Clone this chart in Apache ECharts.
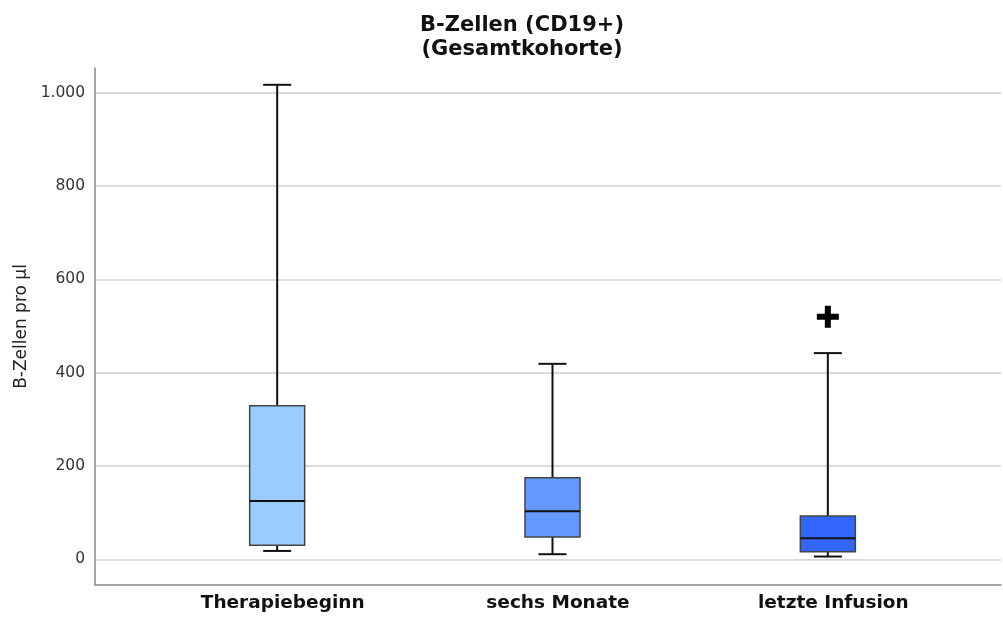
<!DOCTYPE html>
<html><head><meta charset="utf-8">
<script src="https://cdn.jsdelivr.net/npm/echarts@6/dist/echarts.min.js"></script>
<style>html,body{margin:0;padding:0;background:#fff}#c{width:1003px;height:619px}</style>
</head><body><div id="c"></div>
<script>
const categories = ['Therapiebeginn', 'sechs Monate', 'letzte Infusion'];
const whiskerLow = [18, 11, 6];
const q1 = [30, 48, 16];
const median = [125, 103, 45];
const q3 = [329, 175, 93];
const whiskerHigh = [1017, 419, 442];
const outliers = [[2, 520]];
const boxColors = ['#99CCFF', '#6699FF', '#3366FF'];
const yTickLabels = {0: '0', 200: '200', 400: '400', 600: '600', 800: '800', 1000: '1.000'};

const Y_MIN = -55, Y_MAX = 1053;
const FONT = 'DejaVu Sans';

const boxData = categories.map((c, i) => [i, whiskerLow[i], q1[i], median[i], q3[i], whiskerHigh[i]]);

const chart = echarts.init(document.getElementById('c'), null, {renderer: 'canvas'});
chart.setOption({
  animation: false,
  backgroundColor: '#fff',
  title: {
    text: 'B-Zellen (CD19+)\n(Gesamtkohorte)',
    left: 517, top: 9, textAlign: 'center',
    textStyle: {fontFamily: FONT, fontSize: 21, fontWeight: 'bold', color: '#111', lineHeight: 24}
  },
  grid: [
    {left: 95, right: 2, top: 68, bottom: 34},
    {left: 139.5, right: 37.5, top: 68, bottom: 34}
  ],
  xAxis: [
    {gridIndex: 0, type: 'value', min: 0, max: 1,
     axisLine: {show: true, onZero: false, lineStyle: {color: '#888', width: 1.5}},
     axisTick: {show: false}, axisLabel: {show: false}, splitLine: {show: false}},
    {gridIndex: 1, type: 'category', data: categories, axisLine: {show: false}, axisTick: {show: false},
     splitLine: {show: false},
     axisLabel: {margin: 9, fontFamily: FONT, fontSize: 18.5, fontWeight: 'bold', color: '#111', padding: [0, 0, 0, 11]}}
  ],
  yAxis: [
    {gridIndex: 0, type: 'value', min: Y_MIN, max: Y_MAX,
     name: 'B-Zellen pro µl', nameLocation: 'middle', nameGap: 64,
     nameTextStyle: {fontFamily: FONT, fontSize: 17, color: '#222'},
     axisLine: {show: true, lineStyle: {color: '#888', width: 1.5}},
     axisTick: {show: false},
     axisLabel: {margin: 10, fontFamily: FONT, fontSize: 15.5, color: '#333', showMinLabel: false, showMaxLabel: false,
       formatter: v => (yTickLabels[v] !== undefined ? yTickLabels[v] : '')},
     splitLine: {show: true, showMinLine: false, showMaxLine: false, lineStyle: {color: '#cfcfcf', width: 1.5}}},
    {gridIndex: 1, type: 'value', min: Y_MIN, max: Y_MAX, show: false, splitLine: {show: false}}
  ],
  series: [
    {
      type: 'custom', xAxisIndex: 1, yAxisIndex: 1,
      data: boxData,
      encode: {x: 0, y: [1, 2, 3, 4, 5]},
      renderItem: function (params, api) {
        const i = api.value(0);
        const pLo = api.coord([i, api.value(1)]);
        const pQ1 = api.coord([i, api.value(2)]);
        const pMed = api.coord([i, api.value(3)]);
        const pQ3 = api.coord([i, api.value(4)]);
        const pHi = api.coord([i, api.value(5)]);
        const x = pLo[0];
        const bw = 55, cw = 28;
        const wStyle = {stroke: '#111', lineWidth: 2};
        return {
          type: 'group',
          children: [
            {type: 'line', shape: {x1: x, y1: pHi[1], x2: x, y2: pQ3[1]}, style: wStyle},
            {type: 'line', shape: {x1: x, y1: pQ1[1], x2: x, y2: pLo[1]}, style: wStyle},
            {type: 'line', shape: {x1: x - cw / 2, y1: pHi[1], x2: x + cw / 2, y2: pHi[1]}, style: wStyle},
            {type: 'line', shape: {x1: x - cw / 2, y1: pLo[1], x2: x + cw / 2, y2: pLo[1]}, style: wStyle},
            {type: 'rect', shape: {x: x - bw / 2, y: pQ3[1], width: bw, height: pQ1[1] - pQ3[1]},
             style: {fill: boxColors[params.dataIndex], stroke: '#444', lineWidth: 1.5}},
            {type: 'line', shape: {x1: x - bw / 2, y1: pMed[1], x2: x + bw / 2, y2: pMed[1]},
             style: {stroke: '#111', lineWidth: 2}}
          ]
        };
      }
    },
    {
      type: 'scatter', xAxisIndex: 1, yAxisIndex: 1,
      data: outliers,
      symbol: 'path://M8,0L14,0L14,8L22,8L22,14L14,14L14,22L8,22L8,14L0,14L0,8L8,8Z',
      symbolSize: 22,
      itemStyle: {color: '#000', opacity: 1}
    }
  ]
});
</script>
</body></html>
